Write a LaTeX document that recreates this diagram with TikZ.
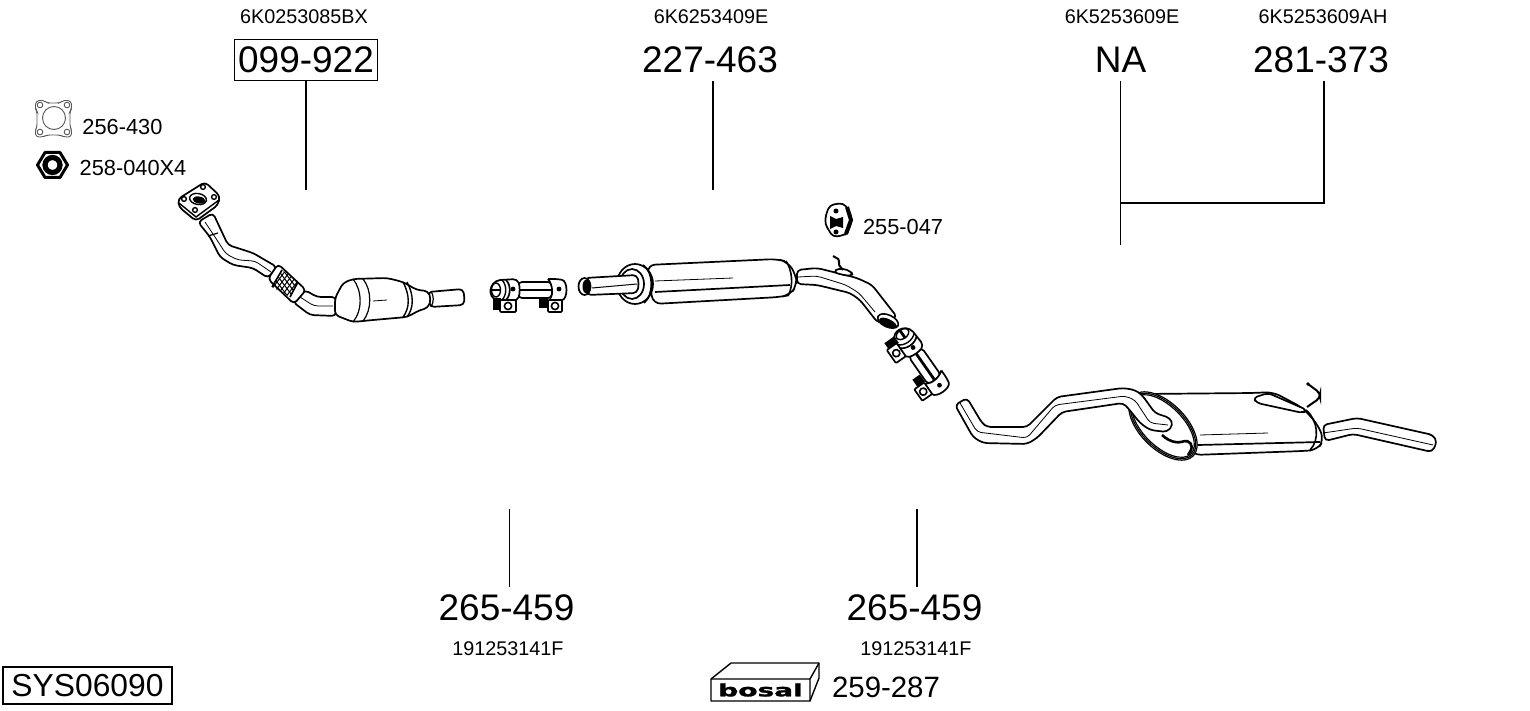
\documentclass[tikz,border=0pt]{standalone}
\usepackage{fontspec}
\setmainfont{Liberation Sans}
\newfontfamily\brandfont[BoldFeatures={FakeBold=1.5}]{DejaVu Sans}
\tikzset{
    part-big/.style = {font=\fontsize{18.5pt}{20pt}\selectfont, inner sep=1pt, minimum height=20.5pt},
    part-oem/.style = {font=\fontsize{9.9pt}{11pt}\selectfont, inner sep=0pt},
    part-mid/.style = {font=\fontsize{10.9pt}{12pt}\selectfont, inner sep=0pt},
    part-kit/.style = {font=\fontsize{14.7pt}{16pt}\selectfont, inner sep=0pt},
    part-box/.style = {part-big, draw, line width=.6pt, inner xsep=2pt},
    lead/.style = {draw, line width=.6pt},
    body/.style = {draw, fill=white, line width=.85pt, line join=round, rounded corners=2pt},
    thin-detail/.style = {draw, line width=.4pt, rounded corners=2pt},
    gasket/.style = {draw=black!65, fill=white, line width=.45pt},
    clamp/.pic = {
        \path[body] (-12,-8) rectangle (22,8);
        \draw[line width=1.4pt] (-10,0) -- (24,0);
        \path[body] (18,-11) -- (28,-11) .. controls (38,-9) and (38,9) .. (28,11) -- (18,11) .. controls (23,5) and (23,-5) .. (18,-11);
        \path[body] (-30,-10) -- (-13,-11) .. controls (-10,-4) and (-10,4) .. (-13,11) -- (-30,10) .. controls (-42,8) and (-42,-8) .. (-30,-10);
        \path[body] (-24,-10) .. controls (-19,-5) and (-19,5) .. (-24,10);
        \draw[line width=.7pt] (-28,-10) .. controls (-23,-5) and (-23,5) .. (-28,10);
        \draw[line width=.7pt, fill=white] (-34,0) ellipse (4.5 and 7);
        \draw[line width=1.4pt] (-39,0) -- (-29,0);
        \fill (-17,-1) circle (2.4);
        \fill (29,-1) circle (2.4);
        \fill (-37,8) rectangle (-29,20);
        \fill (9,9) rectangle (18,18);
        \path[body, rounded corners=.5pt] (-30,10) rectangle (-14,22);
        \path[body, rounded corners=.5pt] (18,10) rectangle (32,22);
        \draw[line width=.8pt] (-22,16) circle (3.6);
        \draw[line width=.8pt] (25,16) circle (3.6);
    },
}

\begin{document}
\begin{tikzpicture}[x=.5pt, y=-.5pt]
\useasboundingbox (0,0) rectangle (1530,711);

\node[part-oem] (oemPipe) at (304,17) {6K0253085BX};
\node[part-oem] (oemMid) at (711,17) {6K6253409E};
\node[part-oem] (oemRearA) at (1122,17) {6K5253609E};
\node[part-oem] (oemRearB) at (1323,17) {6K5253609AH};
\node[part-box] (pipeNo) at (306,60) {099-922};
\node[part-big] (midNo) at (710,60) {227-463};
\node[part-big] (naNo) at (1120.5,60) {NA};
\node[part-big] (rearNo) at (1321,60) {281-373};
\node[part-big] (clampNoA) at (506.5,608) {265-459};
\node[part-big] (clampNoB) at (914.5,608) {265-459};
\node[part-oem] (oemClampA) at (508,649) {191253141F};
\node[part-oem] (oemClampB) at (916,649) {191253141F};
\node[part-mid] (gasketNo) at (122.5,127) {256-430};
\node[part-mid] (nutNo) at (133,168) {258-040X4};
\node[part-mid] (hangerNo) at (903,227) {255-047};
\node[part-kit] (kitNo) at (886,687) {259-287};
\node[draw, line width=.6pt, font=\fontsize{15.9pt}{17pt}\selectfont, inner sep=0pt, minimum width=84.5pt, minimum height=18.5pt] (sysNo) at (87.5,685.5) {SYS06090};

\coordinate (pipeEnd) at (306,190);
\coordinate (midEnd) at (713,190);
\coordinate (rearEnd) at (1120.5,245);
\coordinate (rearTurn) at (1324,203);
\coordinate (clampEndA) at (509.5,509);
\coordinate (clampEndB) at (917,509);

\draw[lead] (pipeNo) -- (pipeEnd);
\draw[lead] (midEnd |- midNo.south) -- (midEnd);
\draw[lead] (naNo) -- (rearEnd);
\draw[lead] (rearTurn |- rearNo.south) -- (rearTurn) -- (rearTurn -| rearEnd);
\draw[lead] (clampEndA) -- (clampEndA |- clampNoA.north);
\draw[lead] (clampEndB) -- (clampEndB |- clampNoB.north);

\path[gasket, rounded corners=1.5pt] (36,101) -- (43,100) -- (47,103) -- (60,103) -- (64,100) -- (71,101) -- (72,108) -- (70,111) -- (70,127) -- (72,131) -- (71,137) -- (64,137) -- (60,135) -- (47,135) -- (43,137) -- (36,137) -- (35,131) -- (37,127) -- (37,111) -- (35,108) -- cycle;
\draw[gasket] (54,118) circle (11.5);
\foreach \hx/\hy in {40/105, 67/105, 40/132, 67/132} {
    \draw[gasket] (\hx,\hy) circle (2.8);
}

\path[draw, fill=white, line width=1.5pt, line join=round] (37.5,165) -- (45,152.5) -- (60,152.5) -- (67.5,165) -- (60,177.5) -- (45,177.5) -- cycle;
\draw[line width=2.6pt] (52.5,165) circle (7.5);

\path[body] (198,222) -- (210,237) -- (220,257) -- (233,265) -- (253,268) -- (268,278) -- (277,267) -- (253,253) -- (228,245) -- (213,213) -- cycle;
\path[thin-detail] (205,222) -- (217,240) -- (226,254) -- (238,260) -- (255,261) -- (271,272);
\draw[line width=.6pt] (208,236) -- (218,233);
\path[body] (178,199) -- (205,182) -- (220,196) -- (218,205) -- (196,221) -- (179,207) -- cycle;
\draw[line width=.7pt] (179,203) -- (196,217) -- (219,200);
\draw[rotate around={-10:(198,199)}, line width=.7pt, fill=white] (198,199) ellipse (8.5 and 5.5);
\fill[rotate around={-10:(199,200)}] (199,200) ellipse (6.5 and 3.5);
\foreach \hx/\hy in {203/187, 214/197, 195/210, 184/199} {
    \draw[line width=.7pt, fill=white] (\hx,\hy) circle (2.4);
}

\path[body] (293,302) -- (310,315) -- (336,316) -- (336,297) -- (317,297) -- (305,290) -- cycle;
\path[thin-detail] (300,297) -- (314,306) -- (333,306);
\path[body] (278,264) -- (268,279) -- (294,304) -- (306,290) -- cycle;
\begin{scope}
    \clip (282,270) -- (272,287) -- (290,297) -- (298,282) -- cycle;
    \foreach \m in {0,5,...,60} {
        \draw[line width=.5pt] (262+\m,262) -- (292+\m,302);
        \draw[line width=.5pt] (262+\m,302) -- (292+\m,262);
    }
\end{scope}
\draw[line width=.8pt] (282,270) -- (272,287) (298,282) -- (290,297);

\path[body] (428,292) -- (463,289) -- (464.5,297) -- (464,305) -- (430,307) -- cycle;
\path[body] (335,298) -- (343,283) -- (353,279) -- (387,278) -- (403,282) -- (417,290) -- (428,291) -- (431,299) -- (428,308) -- (420,310) -- (407,317) -- (373,320) -- (353,322) -- (335,315) -- cycle;
\draw[line width=.6pt] (353,279) .. controls (362,290) and (363,310) .. (353,322);
\draw[line width=.6pt] (363,279) .. controls (372,290) and (372,310) .. (363,321);
\draw[line width=.7pt] (403,282) .. controls (410,295) and (410,308) .. (403,317);
\draw[line width=.7pt] (407,282) .. controls (414,295) and (414,308) .. (407,317);
\draw[line width=.4pt] (373,301) -- (387,300);
\draw[line width=.6pt] (431,291) .. controls (434,296) and (434,302) .. (431,307);

\path[body] (797,270) -- (817,268) -- (833,272) -- (857,278) -- (872,285) -- (897,317) -- (878,323) -- (860,300) -- (850,293) -- (817,285) -- (797,284) -- cycle;
\path[thin-detail] (798,277) -- (817,276) -- (846,285) -- (859,293) -- (875,312);
\draw[rotate around={-25:(888,321)}, fill=white, line width=.8pt] (888,321) ellipse (11 and 6);
\draw[rotate around={-25:(888,323)}, fill=black] (888,323) ellipse (9 and 3.5);
\path[body] (833,272) -- (839,268) -- (851,271) -- (853,276) -- (843,275) -- cycle;
\draw[line width=1pt, rounded corners=1pt] (833,256) -- (840,260) -- (838,264) -- (843,270);

\path[body, rounded corners=4pt] (647,265) -- (777,259) -- (788,262) -- (796,275) -- (797,285) -- (790,295) -- (780,297) -- (653,304) -- cycle;
\draw[line width=.4pt] (655,281) -- (733,278);
\draw[line width=.85pt] (655,292) -- (790,285);
\draw[line width=.8pt] (786,261) .. controls (792,270) and (794,285) .. (788,296);
\draw[line width=.85pt, fill=white] (635,284) ellipse (18 and 20);
\draw[line width=.85pt] (643,265) .. controls (654,272) and (654,295) .. (644,303);
\draw[line width=.85pt, fill=white] (632,284) ellipse (12 and 15);
\path[body] (585,278) -- (637,275) -- (639,284) -- (637,293) -- (587,295) -- cycle;
\draw[line width=.85pt, fill=white] (584.5,286.5) ellipse (6 and 8.5);
\fill (586.5,286.5) ellipse (4 and 7);
\draw[line width=.5pt] (592,288) -- (637,284);

\pic at (530,290) {clamp};
\pic[rotate=-55] at (922,362) {clamp};

\path[body] (830,205) -- (843,203) -- (849,210) -- (852,220) -- (848,232) -- (845,235) -- (833,237) -- (825,224) -- (826,214) -- cycle;
\draw[line width=2pt] (847,207) -- (851,220) -- (846,234);
\fill (836,211) circle (2.5);
\fill (836,232) circle (2.5);
\fill (830,216) -- (836,219) -- (843,217) -- (843,228) -- (836,226) -- (830,229) -- cycle;

\path[body] (1323,425) -- (1357,418) -- (1433,435) -- (1437,442) -- (1432,452) -- (1353,434) -- (1325,441) -- cycle;
\path[thin-detail] (1323,433) -- (1357,428) -- (1433,445);

\path[body, rounded corners=4pt] (1143,394) -- (1253,393) -- (1273,392) -- (1303,408) -- (1318,425) -- (1324,440) -- (1317,450) -- (1303,451) -- (1193,455) -- cycle;
\draw[line width=.4pt] (1200,435) -- (1268,433);
\draw[line width=.85pt] (1198,445) -- (1320,442);
\draw[line width=.8pt] (1306,410) .. controls (1318,420) and (1320,440) .. (1310,450);
\draw[rotate around={-45:(1163,426)}, line width=.6pt, fill=white] (1163,426) ellipse (42.5 and 23);
\draw[rotate around={-45:(1163,426)}, line width=.6pt, fill=white] (1163,426) ellipse (41 and 21.5);
\draw[rotate around={-45:(1163,426)}, line width=.6pt, fill=white] (1163,426) ellipse (39.5 and 20);
\path[body] (1253,398) -- (1268,393) -- (1307,410) -- (1303,413) -- (1257,403) -- cycle;
\draw[line width=1pt, rounded corners=2pt] (1308,384) -- (1320,393) -- (1320,398) -- (1307,407);
\fill (1308,384) circle (1.8);

\path[body] (967,398) -- (982,423) -- (987,427) -- (1027,427) -- (1057,397) -- (1123,388) -- (1135,390) -- (1142,395) -- (1155,413) -- (1170,418) -- (1173,425) -- (1167,432) -- (1150,430) -- (1140,423) -- (1128,408) -- (1123,403) -- (1062,412) -- (1037,438) -- (1027,444) -- (983,443) -- (973,437) -- (955,405) -- cycle;
\path[thin-detail] (960,403) -- (977,432) -- (1027,438) -- (1055,405) -- (1125,396) -- (1135,400) -- (1150,423) -- (1168,425);
\draw[line width=1.3pt, rounded corners=2pt] (1162,435) -- (1168,440) -- (1178,443) -- (1188,440) -- (1193,447) -- (1188,455);

\path[draw, fill=white, line width=.7pt, line join=round] (711,679) -- (731,663) -- (819,663) -- (819,678) -- (810,701) -- (711,701) -- cycle;
\draw[line width=.7pt] (711,679) -- (810,679) -- (819,663) (810,679) -- (810,701);
\node[inner sep=0pt, font=\brandfont\bfseries\fontsize{8.5pt}{9pt}\selectfont] (brand) at (760.5,690) {\scalebox{1.65}[1]{bosal}};
\end{tikzpicture}
\end{document}
